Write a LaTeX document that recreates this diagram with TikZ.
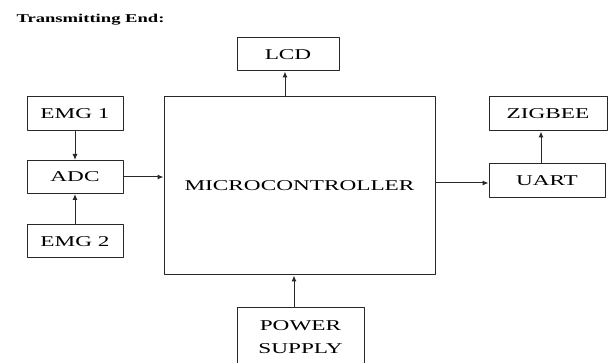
\documentclass[tikz,border=0pt]{standalone}
\usepackage{fontspec}
\setmainfont{Liberation Serif}[FakeStretch=1.55]
\usetikzlibrary{arrows.meta}
\definecolor{Lgray}{RGB}{40,40,40}

\begin{document}
\begin{tikzpicture}[x=1pt,y=-1pt,line cap=round,line join=round,
  blk/.style={draw=Lgray,line width=1pt,inner sep=0pt,align=center,
    font=\fontsize{15}{23}\selectfont,text=black},
  link/.style={draw=Lgray,line width=1pt,-{Latex[length=6pt,width=5pt]}}]
\path[use as bounding box] (0,0) rectangle (611,363);
\node[anchor=west,font=\bfseries\fontsize{12}{14}\selectfont] (title) at (13,20) {Transmitting End:};
\node[blk,minimum width=102pt,minimum height=33pt] (lcd) at (288,54.5) {LCD};
\node[blk,minimum width=271pt,minimum height=178pt] (mcu) at (299.5,186) {MICROCONTROLLER};
\node[blk,minimum width=96pt,minimum height=34pt] (emga) at (75,114) {EMG 1};
\node[blk,minimum width=96pt,minimum height=33pt] (adc) at (75,177) {ADC};
\node[blk,minimum width=96pt,minimum height=33pt] (emgb) at (75,241.5) {EMG 2};
\node[blk,minimum width=118pt,minimum height=34pt] (zigbee) at (548,114) {ZIGBEE};
\node[blk,minimum width=116pt,minimum height=34pt] (uart) at (547,181) {UART};
\node[blk,minimum width=127pt,minimum height=58pt] (power) at (300.5,337) {POWER\\SUPPLY};
\draw[link] (emga) -- (adc);
\draw[link] (emgb) -- (adc);
\draw[link] (adc.east) -- (adc.east -| mcu.west);
\draw[link] ([xshift=-3pt]mcu.north -| lcd.south) -- ([xshift=-3pt]lcd.south);
\draw[link] ([yshift=-2pt]mcu.east |- uart.west) -- ([yshift=-2pt]uart.west);
\draw[link] ([xshift=-6pt]uart.north) -- ([xshift=-6pt]uart.north |- zigbee.south);
\draw[link] (power.north -| 294,0) -- (mcu.south -| 294,0);
\end{tikzpicture}
\end{document}
